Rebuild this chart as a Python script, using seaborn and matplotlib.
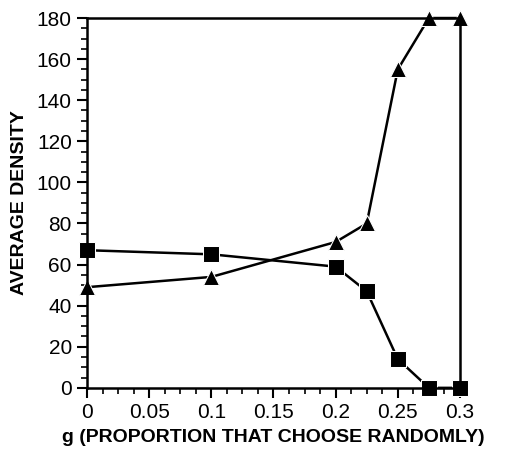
import numpy as np
import pandas as pd
import matplotlib
matplotlib.use("Agg")
import matplotlib.pyplot as plt
import seaborn as sns
from matplotlib.ticker import MultipleLocator

g = [0, 0.1, 0.2, 0.225, 0.25, 0.275, 0.3]
density_triangle = [49, 54, 71, 80, 155, 180, 180]
density_square = [67, 65, 59, 47, 14, 0, 0]

df = pd.DataFrame({
    "g": g * 2,
    "density": density_triangle + density_square,
    "series": ["triangle"] * len(g) + ["square"] * len(g),
})

sns.set_style("ticks", {"text.color": "black", "axes.labelcolor": "black",
                        "xtick.color": "black", "ytick.color": "black",
                        "axes.edgecolor": "black"})
plt.rcParams["font.family"] = ["Liberation Sans", "DejaVu Sans"]

fig = plt.figure(figsize=(5.06, 4.51), dpi=100)
ax = fig.add_axes([0.172, 0.140, 0.737, 0.820])

sns.lineplot(data=df, x="g", y="density", style="series", markers={"triangle": "^", "square": "s"},
             dashes=False, color="black", linewidth=1.8, markersize=12, legend=False, ax=ax,
             clip_on=False)

ax.set_xlim(0, 0.3)
ax.set_ylim(0, 180)
ax.set_xticks([0, 0.05, 0.1, 0.15, 0.2, 0.25, 0.3])
ax.set_xticklabels(["0", "0.05", "0.1", "0.15", "0.2", "0.25", "0.3"])
ax.xaxis.set_minor_locator(MultipleLocator(0.0125))
ax.yaxis.set_major_locator(MultipleLocator(20))
ax.yaxis.set_minor_locator(MultipleLocator(5))
ax.tick_params(which="major", length=7, width=1.5, labelsize=15, direction="out", pad=4,
               colors="black")
ax.tick_params(which="minor", length=4, width=1.2, direction="out", colors="black")
for s in ax.spines.values():
    s.set_linewidth(1.8)
    s.set_color("black")

ax.set_xlabel("g (PROPORTION THAT CHOOSE RANDOMLY)", fontsize=14, fontweight="bold",
              labelpad=5, color="black")
ax.set_ylabel("AVERAGE DENSITY", fontsize=14, fontweight="bold", labelpad=6, color="black")

fig.savefig("out.png", dpi=100)
